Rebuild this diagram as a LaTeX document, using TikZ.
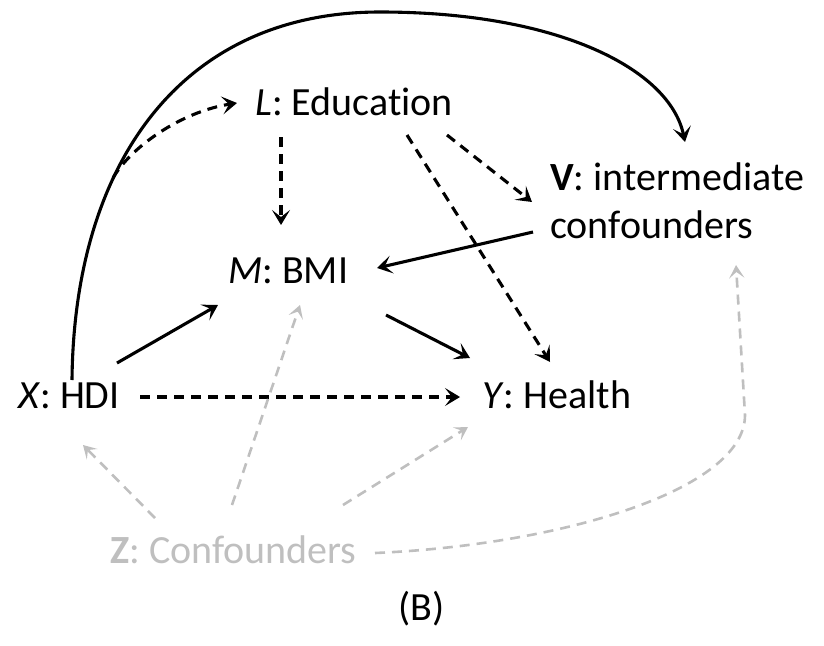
\documentclass[tikz,border=0pt]{standalone}
\usepackage{fontspec}
\setmainfont{Carlito}[Ligatures=NoCommon]
\usetikzlibrary{arrows.meta,calc}
\definecolor{lgray}{HTML}{BFBFBF}
\begin{document}
\begin{tikzpicture}[x=1pt,y=-1pt,
  lbl/.style={inner sep=0pt,anchor=base west,font=\fontsize{40}{48}\selectfont},
  arr/.style={line width=3.1pt,-{Stealth[length=15pt,width=18pt,inset=7pt]}},
  dsh/.style={arr,dash pattern=on 10pt off 7pt},
  gry/.style={line width=2.6pt,dash pattern=on 10pt off 7pt,draw=lgray,
    -{Stealth[length=13pt,width=15pt,inset=6pt]}}]
\useasboundingbox (0,0) rectangle (824,645);
\node[lbl] (L) at (255,115) {\textit{L}: Education};
\node[lbl,align=left] (V) at (550,238) {\textbf{V}: intermediate\\confounders};
\node[lbl] (M) at (228,283) {\textit{M}: BMI};
\node[lbl] (X) at (18,408) {\textit{X}: HDI};
\node[lbl] (Y) at (482,408) {\textit{Y}: Health};
\node[lbl,text=lgray] (Z) at (110,563) {\textbf{Z}: Confounders};
\node[lbl] (B) at (398,620) {(B)};
\coordinate (xl) at (113,178);
% black
\draw[dsh] ($(L.base west)+(26,22)$) -- ($(M.base west)+(53,-58)$);
\draw[dsh] ($(L.base west)+(152,20)$) -- ($(Y.base west)+(68,-46)$);
\draw[dsh] ($(L.base west)+(192,20)$) -- ($(V.base west)+(-18,-36)$);
\draw[arr] ($(V.base west)+(-17,-6)$) -- ($(M.base west)+(149,-15)$);
\draw[arr] ($(X.base west)+(99,-45)$) -- ($(M.base west)+(-10,22)$);
\draw[arr] ($(M.base west)+(158,32)$) -- ($(Y.base west)+(-12,-50)$);
\draw[dsh] ($(X.base west)+(122,-11)$) -- ($(Y.base west)+(-22,-11)$);
\draw[arr] ($(X.base west)+(54,-28)$) .. controls (74,165) and (180,12) .. (380,12)
  .. controls (560,12) and (670,70) .. ($(V.base west)+(135,-96)$);
\draw[dsh] (xl) .. controls (130,148) and (180,112) .. ($(L.base west)+(-18,-12)$);
% gray
\draw[gry] ($(Z.base west)+(45,-45)$) -- ($(X.base west)+(65,37)$);
\draw[gry] ($(Z.base west)+(122,-58)$) -- ($(M.base west)+(72,22)$);
\draw[gry] ($(Z.base west)+(233,-58)$) -- ($(Y.base west)+(-14,19)$);
\draw[gry] ($(Z.base west)+(265,-10)$) .. controls (560,545) and (745,490) .. (745,415)
  -- ($(V.base west)+(186,27)$);
\end{tikzpicture}
\end{document}
